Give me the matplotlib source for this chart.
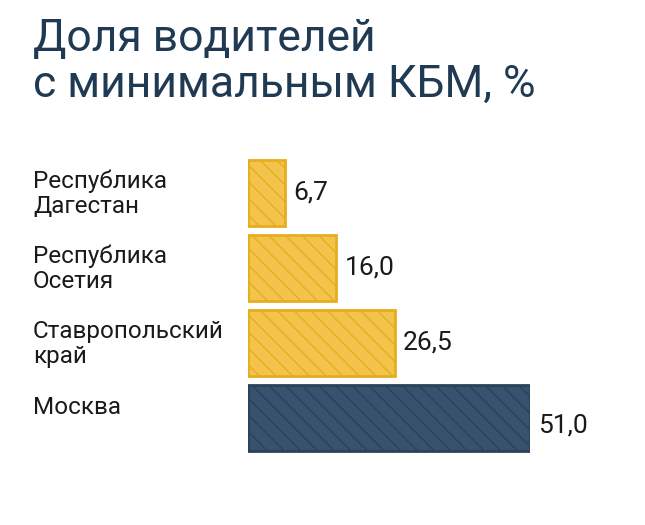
import matplotlib
matplotlib.use("Agg")
import matplotlib.pyplot as plt

plt.rcParams['font.family'] = ['Roboto', 'DejaVu Sans']
plt.rcParams['hatch.color'] = (1, 1, 1, 0.35)

categories = ["Республика\nДагестан", "Республика\nОсетия", "Ставропольский\nкрай", "Москва"]
values = [6.7, 16.0, 26.5, 51.0]
labels = ["6,7", "16,0", "26,5", "51,0"]
colors = ["#f3c44c", "#f3c44c", "#f3c44c", "#36526e"]
edges = ["#e6ad1f", "#e6ad1f", "#e6ad1f", "#2b4259"]

fig = plt.figure(figsize=(6.45, 5.25), dpi=100)
fig.text(33/645, 1-18/525, "Доля водителей\nс минимальным КБМ, %", fontsize=32,
         color="#1f3a52", va="top", ha="left", linespacing=1.12)

ax = fig.add_axes([248/645, 1-455/525, 282/645, 300/525])
ys = list(range(len(values)))
ax.barh(ys, values, height=0.88, color=colors, edgecolor=edges, linewidth=2,
        hatch='\\\\')
ax.set_xlim(0, 51)
ax.set_ylim(3.5, -0.5)
ax.axis('off')
for y, v, l, c in zip(ys, values, labels, categories):
    ax.text(v + 1.5, y + (0.1 if y == 3 else 0), l, va='center', ha='left',
            fontsize=19, color='#1a1a1a')
    fig.text(33/645, 1-(194 + 75*y - (12 if y == 3 else 0))/525, c, fontsize=17.5,
             color='#1a1a1a', va='center', ha='left', linespacing=1.1)

fig.savefig("out.png", dpi=100)
